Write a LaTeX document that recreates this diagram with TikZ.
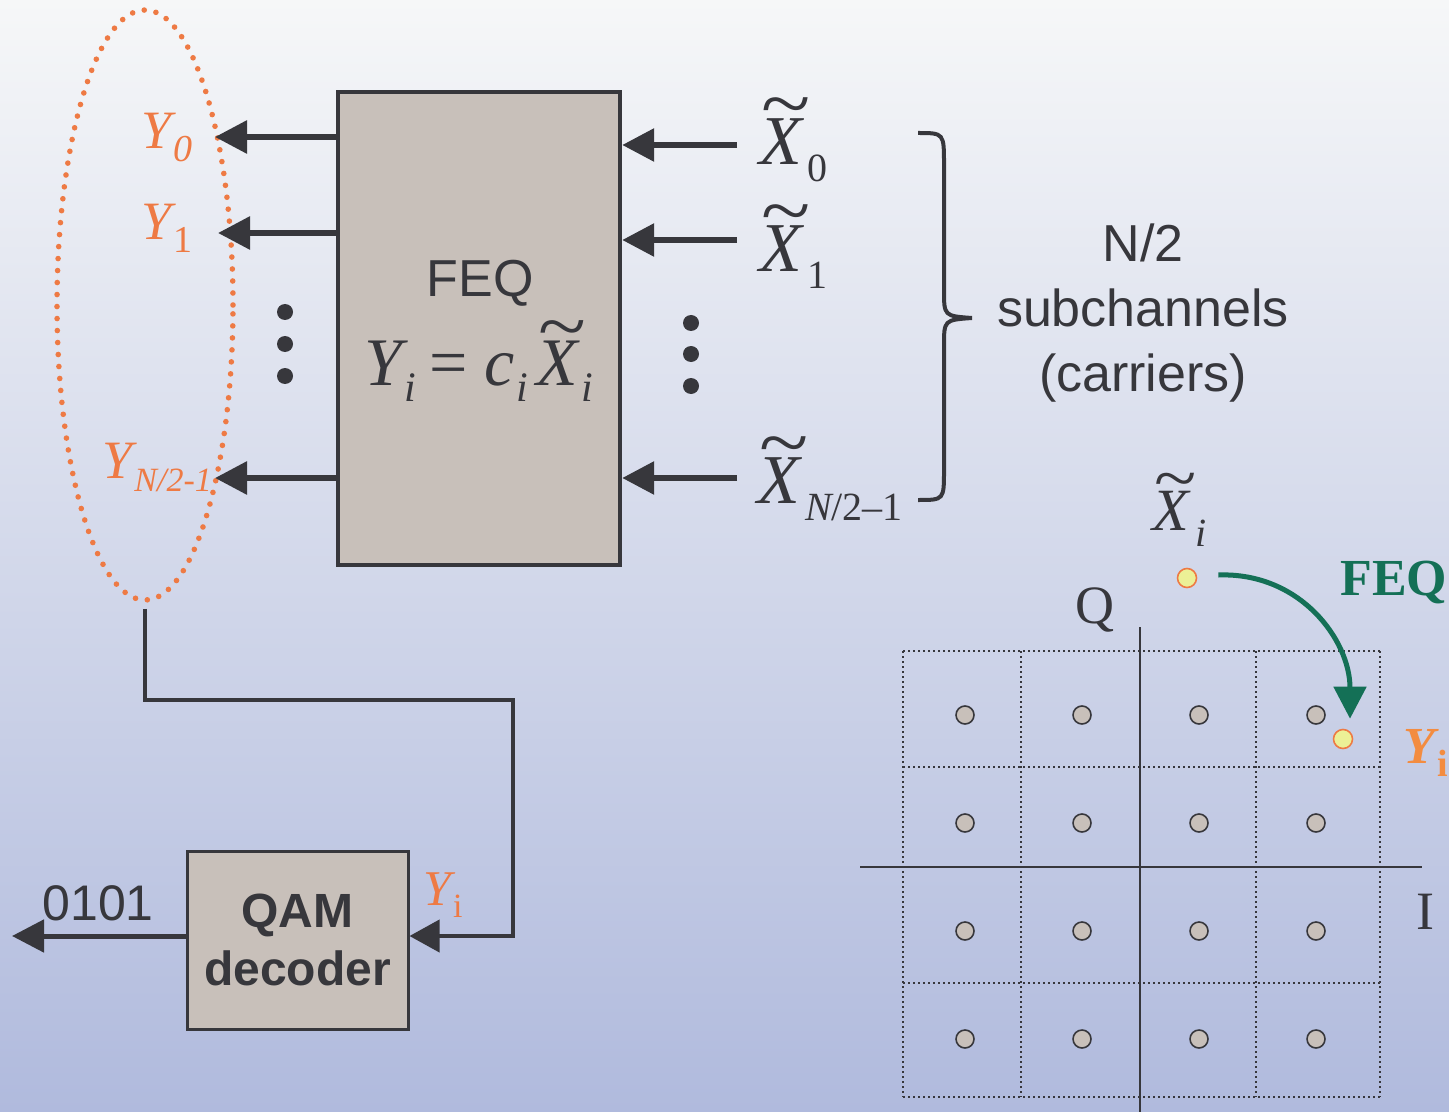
\documentclass[tikz,border=0pt]{standalone}
\usepackage{graphicx}
\usepackage{fontspec}
\setmainfont{Liberation Sans}
\newfontfamily\tms{Liberation Serif}
\usetikzlibrary{positioning, shapes.geometric, arrows.meta, calc}

\definecolor{ink}{RGB}{55,55,60}
\definecolor{boxgrey}{RGB}{200,192,186}
\definecolor{yorange}{RGB}{238,122,68}
\definecolor{yorangeb}{RGB}{243,140,64}
\definecolor{feqgreen}{RGB}{20,112,86}
\definecolor{ptyellow}{RGB}{236,240,150}
\definecolor{bgtop}{RGB}{246,247,248}
\definecolor{bgmid}{RGB}{214,220,234}
\definecolor{bgbot}{RGB}{176,186,221}

\newcommand{\fsz}[1]{\fontsize{#1}{#1}\selectfont}
\newcommand{\lo}[3]{\raisebox{-#1}{\fsz{#2}#3}}
\newcommand{\tl}[1]{\setbox0\hbox{#1}\rlap{\hbox to\wd0{\hss\kern0.16em\raisebox{0.5em}[0pt][0pt]{\upshape\scalebox{1.3}[1.1]{\char"7E}}\hss}}\box0}

\begin{document}
\begin{tikzpicture}[x=0.5pt, y=-0.5pt,
    arrow/.style={-{Triangle[length=16pt,width=16pt]}, line width=3pt, draw=ink},
    link/.style={line width=2pt, draw=ink},
    block/.style={rectangle, draw=ink, fill=boxgrey, inner sep=0pt},
    ylabel/.style={text=yorange, inner sep=0pt, anchor=base west},
    xlabel/.style={text=ink, inner sep=0pt, anchor=base west},
    bullet/.style={circle, fill=ink, minimum size=8pt, inner sep=0pt},
    grid line/.style={ink, line width=0.6pt, dash pattern=on 1pt off 1.5pt},
    axis/.style={ink, line width=1pt},
    symb/.style={circle, draw=ink, fill=boxgrey, line width=0.8pt, minimum size=9pt, inner sep=0pt},
    hit/.style={circle, draw=yorange, fill=ptyellow, line width=0.8pt, minimum size=9.5pt, inner sep=0pt}
]

% Background
\useasboundingbox (0,0) rectangle (1449,1112);
\shade[top color=bgtop, middle color=bgmid, bottom color=bgbot] (0,0) rectangle (1449,1112);

% FEQ block
\node[block, line width=2.2pt, minimum width=141pt, minimum height=236.5pt] (feq) at (479,328.5) {};
\node[text=ink, font=\fsz{26pt}] (feqtitle) at (480,283) {FEQ};
\node[xlabel] (feqeq) at (364,385) {\fsz{34pt}\tms\itshape Y\kern1pt\lo{8.5pt}{21pt}{i}\kern7pt{\upshape=}\kern8pt c\kern1pt\lo{8.5pt}{21pt}{i}\kern4pt\tl{X}\kern2pt\lo{8.5pt}{21pt}{i}};

% Outputs
\node[draw=yorange, ellipse, line width=2.8pt, dash pattern=on 0pt off 6pt, line cap=round,
      minimum width=88pt, minimum height=295pt, inner sep=0pt] (outs) at (145,305) {};
\node[ylabel] (y0) at (141,149) {\fsz{27pt}\tms\itshape Y\kern1pt\lo{6.5pt}{19pt}{0}};
\node[ylabel] (y1) at (141,240) {\fsz{27pt}\tms\itshape Y\kern1pt\lo{6.5pt}{19pt}{\upshape 1}};
\node[ylabel] (yn) at (102,478) {\fsz{27pt}\tms\itshape Y\kern1pt\lo{6.5pt}{17pt}{N/2-1}};
\coordinate (y0tip) at (215,137);
\coordinate (y1tip) at (218,233);
\coordinate (yntip) at (215,478);

% Inputs
\node[xlabel] (x0) at (759,165) {\fsz{35pt}\tms\itshape \tl{X}\kern2.5pt\lo{8.5pt}{20pt}{\upshape 0}};
\node[xlabel] (x1) at (759,272) {\fsz{35pt}\tms\itshape \tl{X}\kern2.5pt\lo{8.5pt}{20pt}{\upshape 1}};
\node[xlabel] (xn) at (757,503) {\fsz{35pt}\tms\itshape \tl{X}\kern2.5pt\lo{8.5pt}{20pt}{N\upshape/2–1}};
\coordinate (x0src) at (737,145);
\coordinate (x1src) at (737,240);
\coordinate (xnsrc) at (737,478);

% Dots
\foreach \y in {312,344,376} \node[bullet] at (285,\y) {};
\foreach \y in {323,354,386} \node[bullet] at (691,\y) {};

% Brace and subchannel note
\draw[ink, line width=2pt] (918,133) .. controls (944,133) .. (944,165) -- (944,290)
    .. controls (944,316) .. (972,318) .. controls (944,320) .. (944,346) -- (944,470)
    .. controls (944,500) .. (918,500);
\node[align=center, text=ink, font=\fontsize{26pt}{32.5pt}\selectfont] (nsub) at (1143,313) {N/2\\subchannels\\(carriers)};

% QAM decoder
\node[block, line width=1.5pt, minimum width=110.5pt, minimum height=89pt, align=center,
      text=ink, font=\bfseries\fontsize{24pt}{29pt}\selectfont] (qam) at (297.5,940) {QAM\\decoder};
\node[ylabel] (yq) at (423,905) {\fsz{25pt}\tms\itshape Y\kern1pt\lo{6pt}{17pt}{\upshape i}};
\node[xlabel, font=\fsz{25pt}] (bitslbl) at (42,920) {0101};
\coordinate (turn) at (513,700);
\coordinate (bits) at (12,936);

% Arrows - FEQ
\draw[arrow] (feq.west |- y0tip) -- (y0tip);
\draw[arrow] (feq.west |- y1tip) -- (y1tip);
\draw[arrow] (feq.west |- yntip) -- (yntip);
\draw[arrow] (x0src) -- (feq.east |- x0src);
\draw[arrow] (x1src) -- (feq.east |- x1src);
\draw[arrow] (xnsrc) -- (feq.east |- xnsrc);

% Arrows - decoder
\draw[link, -{Triangle[length=15pt,width=16pt]}] ([yshift=-3pt]outs.south) |- (turn) |- (qam.east |- bits);
\draw[arrow, line width=2.5pt] (qam.west |- bits) -- (bits);

% Constellation
\foreach \x in {903,1021,1256,1380} \draw[grid line] (\x,651) -- (\x,1097);
\foreach \y in {651,767,983,1097} \draw[grid line] (903,\y) -- (1380,\y);
\draw[axis] (860,867) -- (1422,867);
\draw[axis] (1140,627) -- (1140,1112);
\foreach \x in {965,1082,1199,1316}
  \foreach \y in {715,823,931,1039}
    \node[symb] at (\x,\y) {};
\node[text=ink, font=\tms\fsz{27pt}] (qlbl) at (1095,610) {Q};
\node[text=ink, font=\tms\fsz{27pt}] (ilbl) at (1425,912) {I};

% Equalised point
\node[hit] (xpt) at (1187,578) {};
\node[hit] (ypt) at (1343,739) {};
\node[xlabel] (xi) at (1152,530) {\fsz{30pt}\tms\itshape \tl{X}\kern3pt\lo{8pt}{20pt}{i}};
\node[anchor=base west, inner sep=0pt, text=yorangeb] (yi) at (1403,763) {\fsz{26pt}\tms\bfseries\itshape Y\kern1pt\lo{6.5pt}{19pt}{\upshape i}};
\node[anchor=base west, inner sep=0pt, text=feqgreen, font=\tms\bfseries\fsz{26pt}] (feqlbl) at (1340,595) {FEQ};
\draw[feqgreen, line width=2.5pt, -{Triangle[length=16pt,width=16pt]}]
    ([xshift=10.5pt, yshift=1.5pt]xpt.east) .. controls (1300,572) and (1350,640) .. ([xshift=3.5pt, yshift=5pt]ypt.north);

\end{tikzpicture}
\end{document}
